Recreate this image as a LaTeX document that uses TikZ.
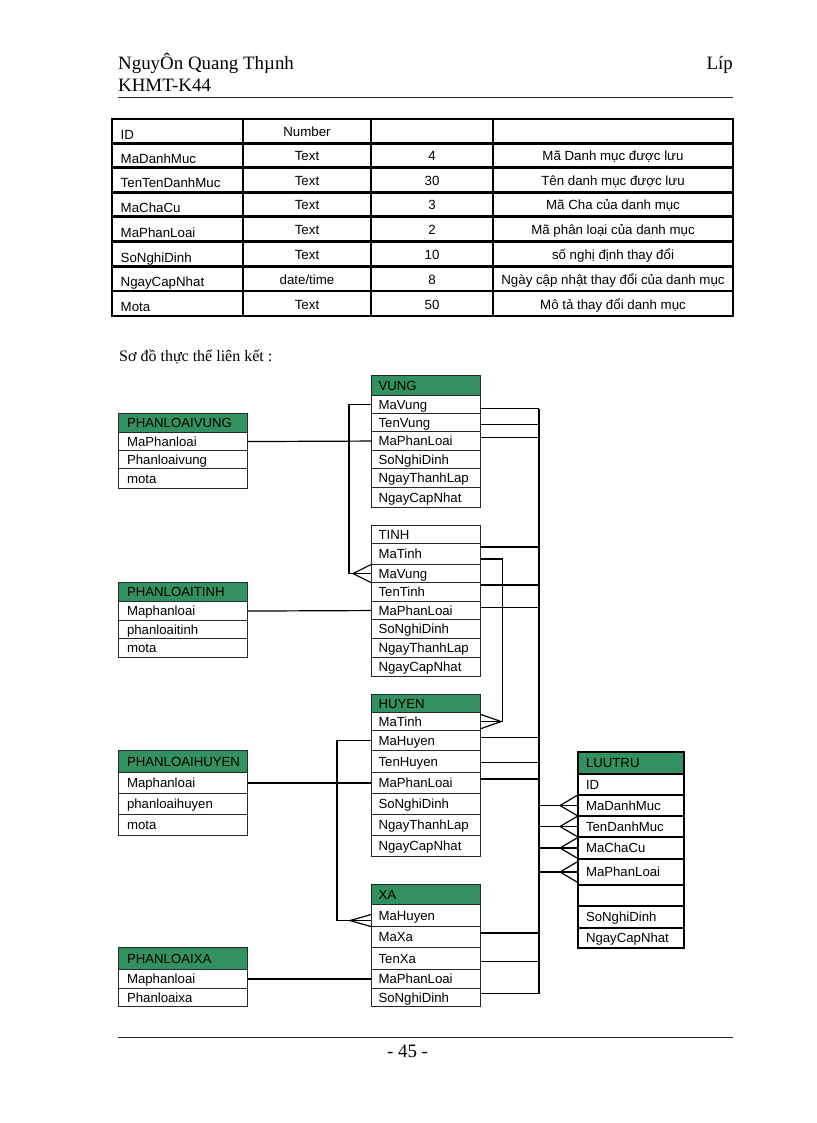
\documentclass[tikz,border=0pt]{standalone}
\usepackage{fontspec}
\setmainfont{Liberation Serif}
\setsansfont{Liberation Sans}
\definecolor{hdrgreen}{RGB}{51,145,95}
\definecolor{boxline}{RGB}{40,40,40}
\newcommand\erow[6]{\node[#1, minimum height={#5-#4}] (#2) at (#3,#4) {#6};}
\newcommand\crowW[3]{\draw[conn] ([xshift=-#2]#1) -- ([yshift=#3]#1) ([xshift=-#2]#1) -- ([yshift=-#3]#1);}
\newcommand\crowE[3]{\draw[conn] ([xshift=#2]#1) -- ([yshift=#3]#1) ([xshift=#2]#1) -- ([yshift=-#3]#1);}
\newcommand\trow[6]{%
  \node[tbl, anchor=base west] (r#1a) at (120.5,#2-4.3) {#3};
  \node[tbl, anchor=base] (r#1b) at (307,#2-6.8) {#4};
  \node[tbl, anchor=base] (r#1c) at (432,#2-6.8) {#5};
  \node[tbl, anchor=base] (r#1d) at (613,#2-6.8) {#6};}
\begin{document}
\begin{tikzpicture}[x=1pt,y=-1pt,
  txt/.style={inner sep=0pt},
  hfont/.style={font=\fontsize{18.9}{21}\selectfont},
  tbl/.style={inner sep=0pt, font=\sffamily\fontsize{13.3}{15}\selectfont},
  er/.style={draw=boxline, line width=1.1pt, fill=white, font=\sffamily\fontsize{13.2}{15}\selectfont,
    inner xsep=7pt, inner ysep=0pt, text height=12.2pt, text depth=2.8pt, anchor=north west, align=left},
  erw/.style={er, text width=95pt},
  plw/.style={er, inner xsep=8.5pt, text width=112pt},
  luw/.style={er, inner xsep=8pt, text width=90pt, line width=2pt, draw=black},
  hdr/.style={fill=hdrgreen},
  conn/.style={line width=1.2pt, black},
  rule/.style={line width=0.9pt, black!85},
  gridline/.style={line width=2.5pt, black, line cap=rect},
]
\useasboundingbox (0,0) rectangle (816,1123);
\fill[white] (0,0) rectangle (816,1123);

% page header
\node[txt, hfont, anchor=base west] (author) at (118,69.5) {NguyÔn Quang Thµnh};
\node[txt, hfont, anchor=base east] (lop) at (733,69.5) {Líp};
\node[txt, hfont, anchor=base west] (khmt) at (118,92) {KHMT-K44};
\draw[rule] (118,97.3) coordinate (hl) -- (733,97.3) coordinate (hr);

% table
\foreach \y in {119,143.5,167.5,192.3,216.7,241.7,266.3,291,316}
  \draw[gridline] (112,\y) -- (733,\y);
\foreach \x in {112,243,371,493,733}
  \draw[gridline] (\x,119) -- (\x,316);
\node[tbl, anchor=base west] (r1a) at (120.5,143.5-4.3) {ID};
\node[tbl, anchor=base] (r1b) at (307,143.5-6.8) {Number};
\trow{2}{167.5}{MaDanhMuc}{Text}{4}{Mã Danh mục được lưu}
\trow{3}{192.3}{TenTenDanhMuc}{Text}{30}{Tên danh mục được lưu}
\trow{4}{216.7}{MaChaCu}{Text}{3}{Mã Cha của danh mục}
\trow{5}{241.7}{MaPhanLoai}{Text}{2}{Mã phân loại của danh mục}
\trow{6}{266.3}{SoNghiDinh}{Text}{10}{số nghị định thay đổi}
\trow{7}{291}{NgayCapNhat}{date/time}{8}{Ngày cập nhật thay đổi của danh mục}
\trow{8}{316}{Mota}{Text}{50}{Mô tả thay đổi danh mục}

\node[txt, font=\fontsize{16}{18}\selectfont, anchor=base west] (title) at (119,361) {Sơ đồ thực thể liên kết :};

% VUNG
\erow{erw,hdr}{vung}{371}{375}{395}{VUNG}
\erow{erw}{vung1}{371}{395}{413}{MaVung}
\erow{erw}{vung2}{371}{413}{431}{TenVung}
\erow{erw}{vung3}{371}{431}{450}{MaPhanLoai}
\erow{erw}{vung4}{371}{450}{468}{SoNghiDinh}
\erow{erw}{vung5}{371}{468}{487}{NgayThanhLap}
\erow{erw}{vung6}{371}{487}{507}{NgayCapNhat}
% PHANLOAIVUNG
\erow{plw,hdr}{plv}{118}{413}{432}{PHANLOAIVUNG}
\erow{plw}{plv1}{118}{432}{450}{MaPhanloai}
\erow{plw}{plv2}{118}{450}{468}{Phanloaivung}
\erow{plw}{plv3}{118}{468}{488}{mota}
% TINH
\erow{erw}{tinh}{371}{525}{543}{TINH}
\erow{erw}{tinh1}{371}{543}{564}{MaTinh}
\erow{erw}{tinh2}{371}{564}{582}{MaVung}
\erow{erw}{tinh3}{371}{582}{601}{TenTinh}
\erow{erw}{tinh4}{371}{601}{619}{MaPhanLoai}
\erow{erw}{tinh5}{371}{619}{638}{SoNghiDinh}
\erow{erw}{tinh6}{371}{638}{657}{NgayThanhLap}
\erow{erw}{tinh7}{371}{657}{676}{NgayCapNhat}
% PHANLOAITINH
\erow{plw,hdr}{plt}{118}{582}{601}{PHANLOAITINH}
\erow{plw}{plt1}{118}{601}{620}{Maphanloai}
\erow{plw}{plt2}{118}{620}{638}{phanloaitinh}
\erow{plw}{plt3}{118}{638}{657}{mota}
% HUYEN
\erow{erw,hdr}{huyen}{371}{694}{712}{HUYEN}
\erow{erw}{huyen1}{371}{712}{730}{MaTinh}
\erow{erw}{huyen2}{371}{730}{750}{MaHuyen}
\erow{erw}{huyen3}{371}{750}{772}{TenHuyen}
\erow{erw}{huyen4}{371}{772}{793}{MaPhanLoai}
\erow{erw}{huyen5}{371}{793}{814}{SoNghiDinh}
\erow{erw}{huyen6}{371}{814}{835}{NgayThanhLap}
\erow{erw}{huyen7}{371}{835}{856}{NgayCapNhat}
% PHANLOAIHUYEN
\erow{plw,hdr}{plh}{118}{750}{772}{PHANLOAIHUYEN}
\erow{plw}{plh1}{118}{772}{793}{Maphanloai}
\erow{plw}{plh2}{118}{793}{814}{phanloaihuyen}
\erow{plw}{plh3}{118}{814}{835}{mota}
% XA
\erow{erw,hdr}{xa}{371}{884}{904}{XA}
\erow{erw}{xa1}{371}{904}{926}{MaHuyen}
\erow{erw}{xa2}{371}{926}{947}{MaXa}
\erow{erw}{xa3}{371}{947}{969}{TenXa}
\erow{erw}{xa4}{371}{969}{988}{MaPhanLoai}
\erow{erw}{xa5}{371}{988}{1006}{SoNghiDinh}
% PHANLOAIXA
\erow{plw,hdr}{plx}{118}{947}{969}{PHANLOAIXA}
\erow{plw}{plx1}{118}{969}{988}{Maphanloai}
\erow{plw}{plx2}{118}{988}{1006}{Phanloaixa}
% LUUTRU
\erow{luw,hdr}{lu}{577}{751}{773}{LUUTRU}
\erow{luw}{lu1}{577}{773}{794}{ID}
\erow{luw}{lu2}{577}{794}{815}{MaDanhMuc}
\erow{luw}{lu3}{577}{815}{836}{TenDanhMuc}
\erow{luw}{lu4}{577}{836}{858}{MaChaCu}
\erow{luw}{lu5}{577}{858}{884}{MaPhanLoai}
\erow{luw}{lu6}{577}{884}{905}{}
\erow{luw}{lu7}{577}{905}{927}{SoNghiDinh}
\erow{luw}{lu8}{577}{927}{947}{NgayCapNhat}

% connectors: classification tables
\draw[conn] (plv1.east) -- (vung3.west);
\draw[conn] (plt1.east) -- (tinh4.west);
\draw[conn] (plh1.east) -- (huyen4.west);
\draw[conn] (plx1.east) -- (xa4.west);

% VUNG -> TINH
\draw[conn] (vung1.west) -- ++(-22,0) |- (tinh2.west);
\crowW{tinh2.west}{18pt}{9pt}
% TINH -> HUYEN
\coordinate (t1s) at ([yshift=-5pt]tinh1.east);
\draw[conn] (t1s) -- ++(21,0) |- (huyen1.east);
\crowE{huyen1.east}{20pt}{7pt}
% HUYEN -> XA
\coordinate (x1w) at ([yshift=-5pt]xa1.west);
\draw[conn] (huyen2.west) -- ++(-34,0) |- (x1w);
\crowW{x1w}{21pt}{6pt}

% bus to LUUTRU
\coordinate (bus) at (539,0);
\foreach \s/\sh in {vung1/-4, vung2/-2, vung3/3.5, tinh1/7, tinh3/7, tinh4/3, huyen2/3, huyen3/-1, huyen4/4, xa2/4, xa3/-3, xa5/4}{
  \coordinate (s-\s) at ([yshift=\sh pt]\s.east);
  \draw[conn] (s-\s) -- (s-\s -| bus);
}
\draw[conn] (s-vung1 -| bus) -- (s-xa5 -| bus);
\foreach \r in {lu2,lu3,lu4,lu5}{
  \draw[conn] (\r.west -| bus) -- (\r.west);
  \crowW{\r.west}{17pt}{10pt}
}

% footer
\draw[rule] (118,1037.3) coordinate (fl) -- (733,1037.3) coordinate (fr);
\node[txt, hfont, anchor=base] (page) at (407.5,1057) {- 45 -};
\end{tikzpicture}
\end{document}
